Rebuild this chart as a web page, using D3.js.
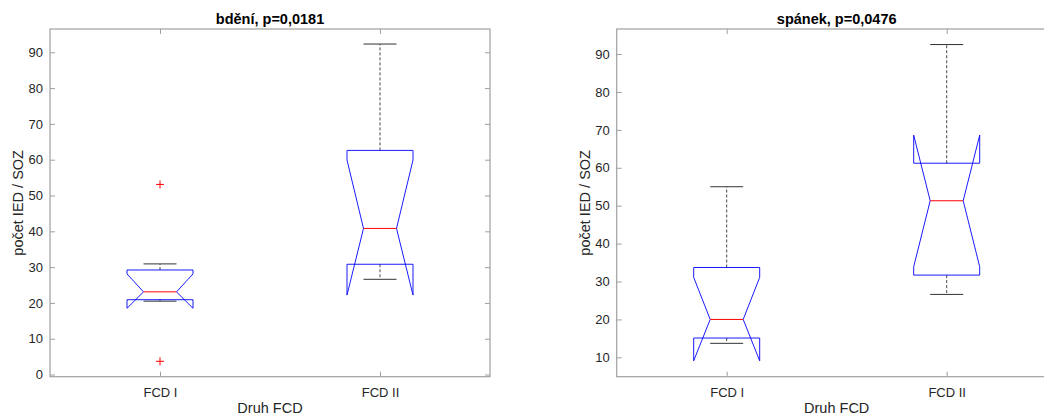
<!DOCTYPE html>
<html>
<head>
<meta charset="utf-8">
<script src="https://cdn.jsdelivr.net/npm/d3@7"></script>
<style>
  body { margin: 0; background: #fff; }
  svg { display: block; }
  text { font-family: "Liberation Sans", Arial, Helvetica, sans-serif; }
</style>
</head>
<body>
<svg id="chart" width="1044" height="416"></svg>
<script>
// ---- data ----
const categories = ["FCD I", "FCD II"];

// panel 1: bdění
const titleWake = "bdění, p=0,0181";
const wakeUpperWhisker = [30.9, 92.3];
const wakeQ3 = [29.2, 62.6];
const wakeNotchHi = [28.1, 59.9];
const wakeMedian = [23.1, 40.8];
const wakeNotchLo = [18.5, 22.2];
const wakeQ1 = [20.9, 30.8];
const wakeLowerWhisker = [20.5, 26.6];
const wakeOutliers = [[53.1, 3.7], []];
const wakeYTicks = [0, 10, 20, 30, 40, 50, 60, 70, 80, 90];
const wakeYLim = [-0.6, 96.5];

// panel 2: spánek
const titleSleep = "spánek, p=0,0476";
const sleepUpperWhisker = [55.0, 92.5];
const sleepQ3 = [33.7, 61.2];
const sleepNotchHi = [31.1, 68.6];
const sleepMedian = [20.0, 51.3];
const sleepNotchLo = [9.1, 33.9];
const sleepQ1 = [15.1, 31.7];
const sleepLowerWhisker = [13.7, 26.6];
const sleepOutliers = [[], []];
const sleepYTicks = [10, 20, 30, 40, 50, 60, 70, 80, 90];
const sleepYLim = [4.9, 96.6];

const xLabel = "Druh FCD";
const yLabel = "počet IED / SOZ";

// ---- drawing ----
const svg = d3.select("#chart");
const axisColor = "#a0a0a0";
const textColor = "#262626";

function panel(opts) {
  const { left, right, top, bottom, ylim, yticks, title, stats, labelX } = opts;
  const x = d3.scaleLinear().domain([0.5, 2.5]).range([left, right]);
  const y = d3.scaleLinear().domain(ylim).range([bottom, top]);
  const g = svg.append("g");

  // axes box
  g.append("rect")
    .attr("x", left).attr("y", top)
    .attr("width", right - left).attr("height", bottom - top)
    .attr("fill", "none").attr("stroke", axisColor).attr("stroke-width", 1.2);

  // y axis left with labels
  const ya = g.append("g").attr("transform", `translate(${left},0)`)
    .call(d3.axisLeft(y).tickValues(yticks).tickSizeInner(-5).tickSizeOuter(0).tickPadding(7).tickFormat(d3.format("d")));
  ya.select(".domain").remove();
  ya.selectAll("line").attr("stroke", axisColor);
  ya.selectAll("text").attr("fill", textColor).style("font-size", "13px");

  // y axis right mirrored ticks
  const yr = g.append("g").attr("transform", `translate(${right},0)`)
    .call(d3.axisRight(y).tickValues(yticks).tickSizeInner(-5).tickSizeOuter(0).tickFormat(""));
  yr.select(".domain").remove();
  yr.selectAll("line").attr("stroke", axisColor);

  // x axis bottom
  const xa = g.append("g").attr("transform", `translate(0,${bottom})`)
    .call(d3.axisBottom(x).tickValues([1, 2]).tickSizeInner(-5).tickSizeOuter(0).tickPadding(11)
      .tickFormat(d => categories[d - 1]));
  xa.select(".domain").remove();
  xa.selectAll("line").attr("stroke", axisColor);
  xa.selectAll("text").attr("fill", textColor).style("font-size", "13px");

  // x axis top mirrored ticks
  const xt = g.append("g").attr("transform", `translate(0,${top})`)
    .call(d3.axisTop(x).tickValues([1, 2]).tickSizeInner(-5).tickSizeOuter(0).tickFormat(""));
  xt.select(".domain").remove();
  xt.selectAll("line").attr("stroke", axisColor);

  // title
  g.append("text")
    .attr("x", (left + right) / 2).attr("y", top - 5)
    .attr("text-anchor", "middle")
    .style("font-size", "14.5px").style("font-weight", "bold")
    .attr("fill", "#000")
    .text(title);

  // x label
  g.append("text")
    .attr("x", (left + right) / 2).attr("y", 412.5)
    .attr("text-anchor", "middle")
    .style("font-size", "14.5px")
    .attr("fill", textColor)
    .text(xLabel);

  // y label
  g.append("text")
    .attr("transform", `translate(${labelX},${(top + bottom) / 2}) rotate(-90)`)
    .attr("text-anchor", "middle")
    .style("font-size", "14.5px")
    .attr("fill", textColor)
    .text(yLabel);

  const halfBox = 0.15, halfNotch = 0.075;
  const boxes = g.append("g");
  categories.forEach((c, i) => {
    const pos = i + 1;
    const bg = boxes.append("g");
    // whiskers (dashed)
    bg.append("line")
      .attr("x1", x(pos)).attr("x2", x(pos))
      .attr("y1", y(stats.q3[i])).attr("y2", y(stats.uw[i]))
      .attr("stroke", "#333").attr("stroke-width", 0.9).attr("stroke-dasharray", "3,2");
    bg.append("line")
      .attr("x1", x(pos)).attr("x2", x(pos))
      .attr("y1", y(stats.q1[i])).attr("y2", y(stats.lw[i]))
      .attr("stroke", "#333").attr("stroke-width", 0.9).attr("stroke-dasharray", "3,2");
    // caps
    [stats.uw[i], stats.lw[i]].forEach(v => {
      bg.append("line")
        .attr("x1", x(pos - halfNotch)).attr("x2", x(pos + halfNotch))
        .attr("y1", y(v)).attr("y2", y(v))
        .attr("stroke", "#333").attr("stroke-width", 1);
    });
    // notched box
    const pts = [
      [pos - halfBox, stats.q1[i]],
      [pos - halfBox, stats.nlo[i]],
      [pos - halfNotch, stats.med[i]],
      [pos - halfBox, stats.nhi[i]],
      [pos - halfBox, stats.q3[i]],
      [pos + halfBox, stats.q3[i]],
      [pos + halfBox, stats.nhi[i]],
      [pos + halfNotch, stats.med[i]],
      [pos + halfBox, stats.nlo[i]],
      [pos + halfBox, stats.q1[i]]
    ];
    bg.append("path")
      .attr("d", d3.line().x(d => x(d[0])).y(d => y(d[1]))(pts) + "Z")
      .attr("fill", "none").attr("stroke", "#0000ff").attr("stroke-width", 0.9);
    // median
    bg.append("line")
      .attr("x1", x(pos - halfNotch)).attr("x2", x(pos + halfNotch))
      .attr("y1", y(stats.med[i])).attr("y2", y(stats.med[i]))
      .attr("stroke", "#ff0000").attr("stroke-width", 1);
    // outliers
    stats.out[i].forEach(v => {
      const cx = x(pos), cy = y(v);
      bg.append("path")
        .attr("d", `M${cx - 4},${cy}H${cx + 4}M${cx},${cy - 4}V${cy + 4}`)
        .attr("stroke", "#ff0000").attr("stroke-width", 1).attr("fill", "none");
    });
  });
}

panel({
  left: 50, right: 490, top: 29, bottom: 376.7,
  ylim: wakeYLim, yticks: wakeYTicks, title: titleWake, labelX: 23,
  stats: { uw: wakeUpperWhisker, q3: wakeQ3, nhi: wakeNotchHi, med: wakeMedian,
           nlo: wakeNotchLo, q1: wakeQ1, lw: wakeLowerWhisker, out: wakeOutliers }
});
panel({
  left: 616.7, right: 1056.7, top: 29, bottom: 376.7,
  ylim: sleepYLim, yticks: sleepYTicks, title: titleSleep, labelX: 589.5,
  stats: { uw: sleepUpperWhisker, q3: sleepQ3, nhi: sleepNotchHi, med: sleepMedian,
           nlo: sleepNotchLo, q1: sleepQ1, lw: sleepLowerWhisker, out: sleepOutliers }
});
</script>
</body>
</html>
